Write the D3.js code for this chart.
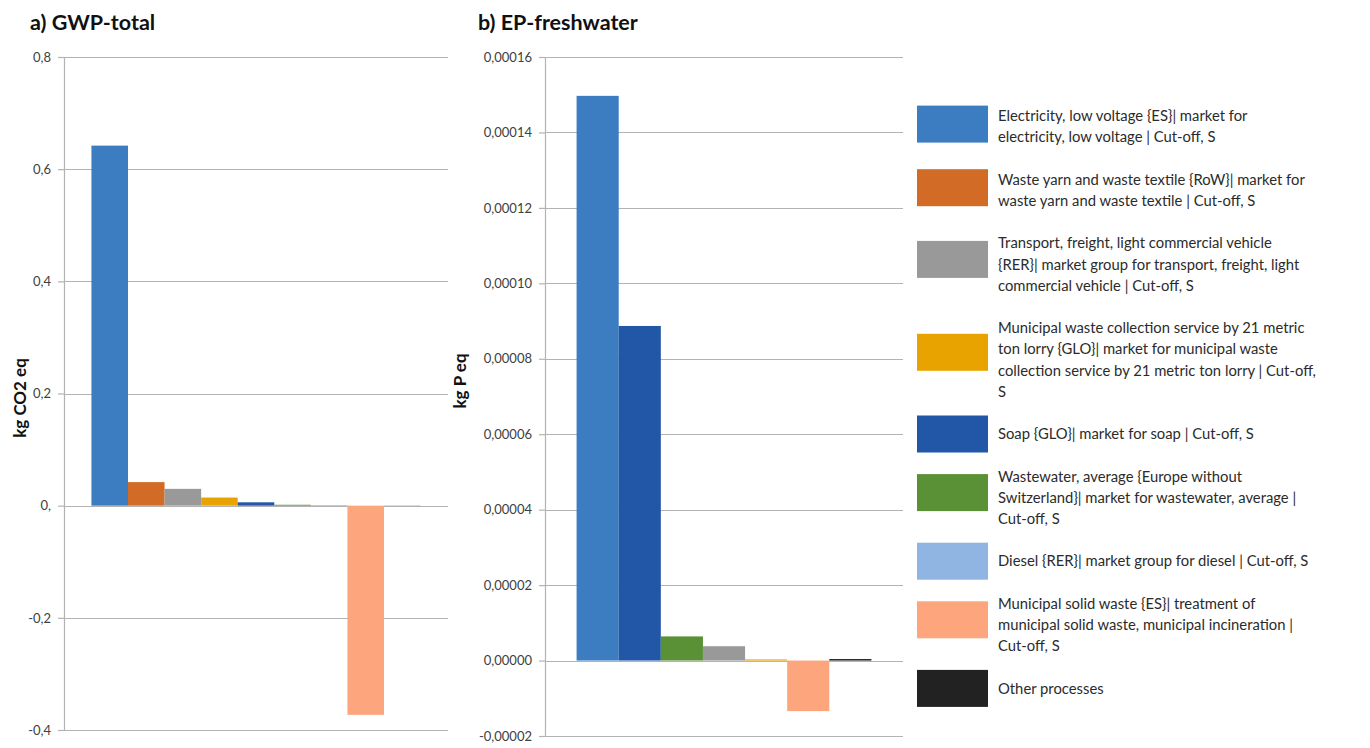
<!DOCTYPE html>
<html>
<head>
<meta charset="utf-8">
<script src="https://cdn.jsdelivr.net/npm/d3@7/dist/d3.min.js"></script>
<style>
  html, body { margin: 0; padding: 0; background: #fff; }
  svg { display: block; }
  text { font-family: Lato, "Open Sans", sans-serif; }
</style>
</head>
<body>
<svg id="chart" width="1370" height="748"></svg>
<script>
// Process contributions (one series per process)
const processNames = [
  "Electricity, low voltage {ES}| market for electricity, low voltage | Cut-off, S",
  "Waste yarn and waste textile {RoW}| market for waste yarn and waste textile | Cut-off, S",
  "Transport, freight, light commercial vehicle {RER}| market group for transport, freight, light commercial vehicle | Cut-off, S",
  "Municipal waste collection service by 21 metric ton lorry {GLO}| market for municipal waste collection service by 21 metric ton lorry | Cut-off, S",
  "Soap {GLO}| market for soap | Cut-off, S",
  "Wastewater, average {Europe without Switzerland}| market for wastewater, average | Cut-off, S",
  "Diesel {RER}| market group for diesel | Cut-off, S",
  "Municipal solid waste {ES}| treatment of municipal solid waste, municipal incineration | Cut-off, S",
  "Other processes"
];
// Legend text, wrapped line by line
const legendLines = [
  ["Electricity, low voltage {ES}| market for", "electricity, low voltage | Cut-off, S"],
  ["Waste yarn and waste textile {RoW}| market for", "waste yarn and waste textile | Cut-off, S"],
  ["Transport, freight, light commercial vehicle", "{RER}| market group for transport, freight, light", "commercial vehicle | Cut-off, S"],
  ["Municipal waste collection service by 21 metric", "ton lorry {GLO}| market for municipal waste", "collection service by 21 metric ton lorry | Cut-off,", "S"],
  ["Soap {GLO}| market for soap | Cut-off, S"],
  ["Wastewater, average {Europe without", "Switzerland}| market for wastewater, average |", "Cut-off, S"],
  ["Diesel {RER}| market group for diesel | Cut-off, S"],
  ["Municipal solid waste {ES}| treatment of", "municipal solid waste, municipal incineration |", "Cut-off, S"],
  ["Other processes"]
];
const processColors = ["#3b7dc0", "#d26b26", "#999999", "#e9a300", "#2157a6", "#5a9136", "#91b5e2", "#fda67e", "#222222"];

// a) GWP-total, kg CO2 eq
const gwpSeries = [0, 1, 2, 3, 4, 5, 6, 7, 8];
const gwpValues = [0.642, 0.042, 0.030, 0.0145, 0.006, 0.0016, 0.0012, -0.373, 0.0003];
const gwpTicks = [-0.4, -0.2, 0, 0.2, 0.4, 0.6, 0.8];
const gwpTickLabels = ["-0,4", "-0,2", "0,", "0,2", "0,4", "0,6", "0,8"];

// b) EP-freshwater, kg P eq
const epSeries = [0, 4, 5, 2, 3, 7, 8];
const epValues = [0.0001497, 0.0000887, 0.0000064, 0.0000038, 0.0000003, -0.0000134, 0.0000004];
const epTicks = [-0.00002, 0, 0.00002, 0.00004, 0.00006, 0.00008, 0.00010, 0.00012, 0.00014, 0.00016];
const epTickLabels = ["-0,00002", "0,00000", "0,00002", "0,00004", "0,00006", "0,00008", "0,00010", "0,00012", "0,00014", "0,00016"];

const svg = d3.select("#chart");
const gridColor = "#b3b3b3";
const labelColor = "#404040";

function panel(opts) {
  const g = svg.append("g");
  const y = d3.scaleLinear().domain([opts.ticks[0], opts.ticks[opts.ticks.length - 1]]).range([opts.bottom, opts.top]);
  const x = d3.scaleBand().domain(opts.series.map((s, i) => i)).range([opts.left, opts.right])
    .paddingInner(0).paddingOuter(0.75);

  // horizontal gridlines
  g.append("g").selectAll("line").data(opts.ticks).join("line")
    .attr("x1", opts.left).attr("x2", opts.right)
    .attr("y1", d => Math.round(y(d)) + 0.5).attr("y2", d => Math.round(y(d)) + 0.5)
    .attr("stroke", gridColor).attr("stroke-width", 1.2);

  // y axis with outward ticks
  const axis = d3.axisLeft(y).tickValues(opts.ticks).tickSize(6).tickPadding(7)
    .tickFormat((d, i) => opts.tickLabels[i]);
  const ag = g.append("g").attr("transform", `translate(${opts.left},0)`).call(axis);
  ag.select(".domain").attr("stroke", gridColor).attr("stroke-width", 1.2);
  ag.selectAll(".tick line").attr("stroke", gridColor).attr("stroke-width", 1.2);
  ag.selectAll(".tick text").attr("fill", labelColor)
    .style("font-family", "Lato, sans-serif").style("font-size", "13px");

  // bars
  g.append("g").selectAll("rect").data(opts.values).join("rect")
    .attr("x", (d, i) => x(i))
    .attr("width", x.bandwidth())
    .attr("y", d => y(Math.max(0, d)))
    .attr("height", d => Math.abs(y(d) - y(0)))
    .attr("fill", (d, i) => processColors[opts.series[i]]);

  // titles
  g.append("text").attr("x", opts.titleX).attr("y", 30)
    .attr("font-size", 21.5).attr("font-weight", 700).attr("fill", "#111")
    .text(opts.title);
  g.append("text")
    .attr("transform", `translate(${opts.unitX},${opts.unitY}) rotate(-90)`)
    .attr("text-anchor", "middle").attr("font-size", 17).attr("font-weight", 700).attr("fill", "#111")
    .text(opts.unit);
}

panel({
  title: "a) GWP-total", titleX: 30, unit: "kg CO2 eq", unitX: 26, unitY: 398,
  series: gwpSeries, values: gwpValues, ticks: gwpTicks, tickLabels: gwpTickLabels,
  left: 64, right: 448, top: 57, bottom: 730
});
panel({
  title: "b) EP-freshwater", titleX: 478, unit: "kg P eq", unitX: 466, unitY: 381,
  series: epSeries, values: epValues, ticks: epTicks, tickLabels: epTickLabels,
  left: 545, right: 903, top: 57, bottom: 736
});

// legend: each entry is its text lines plus one blank line
const lineH = 21.2;
const firstLineY = 116;
const legend = svg.append("g");
let lineIndex = 0;
legendLines.forEach((lines, i) => {
  const cy = firstLineY + lineH * lineIndex;
  const blockCenter = cy + lineH * (lines.length - 1) / 2;
  const swatchCenter = blockCenter - (lines.length - 1) * 2.5;
  legend.append("rect")
    .attr("x", 917).attr("y", swatchCenter - 18.5)
    .attr("width", 71).attr("height", 37)
    .attr("fill", processColors[i]);
  const t = legend.append("text").attr("fill", "#2b2b2b").attr("font-size", 14.8);
  lines.forEach((ln, j) => {
    t.append("tspan").attr("x", 998).attr("y", cy + lineH * j)
      .attr("dy", "0.35em").text(ln);
  });
  lineIndex += lines.length + 1;
});
</script>
</body>
</html>
